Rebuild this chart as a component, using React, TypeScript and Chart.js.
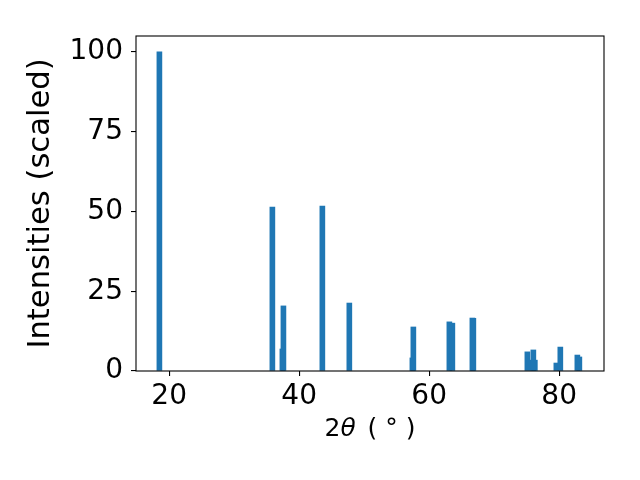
import React, { useEffect, useRef } from "react";
import { Chart, registerables } from "chart.js";

Chart.register(...registerables);

// 2θ positions (degrees) and scaled intensities
const twoTheta = [
  18.5, 35.88, 37.42, 37.58, 43.57, 47.72, 57.42, 57.57, 63.11, 63.57,
  66.65, 66.8, 75.11, 75.95, 76.26, 76.03, 79.57, 80.18, 82.8, 83.11,
];
const intensity = [
  100, 51.4, 6.9, 20.4, 51.7, 21.3, 4.1, 13.8, 15.4, 15.0,
  16.6, 16.5, 6.0, 3.4, 3.4, 6.6, 2.5, 7.5, 5.0, 4.4,
];
const xTicks = [20, 40, 60, 80];
const yTicks = [0, 25, 50, 75, 100];
// x label pieces: "2θ ( ° )" with an italic θ
const xLabelParts = [
  { text: "2", italic: false, gap: 0 },
  { text: "θ", italic: true, gap: 0 },
  { text: " (", italic: false, gap: 4 },
  { text: " ° ", italic: false, gap: 0 },
  { text: ")", italic: false, gap: 0 },
];
const yLabel = "Intensities (scaled)";

const FAMILY = "'DejaVu Sans', sans-serif";

const framePlugin = {
  id: "frame",
  afterDraw(chart: any) {
    const { ctx, chartArea } = chart;
    ctx.save();
    ctx.strokeStyle = "#000";
    ctx.lineWidth = 1.1;
    ctx.strokeRect(chartArea.left, chartArea.top, chartArea.right - chartArea.left, chartArea.bottom - chartArea.top);
    // x axis title
    const fontOf = (it: boolean) => `${it ? "italic " : ""}25px ${FAMILY}`;
    let total = 0;
    for (const p of xLabelParts) {
      ctx.font = fontOf(p.italic);
      total += p.gap + ctx.measureText(p.text).width;
    }
    let x = (chartArea.left + chartArea.right) / 2 - total / 2;
    const y = chartArea.bottom + 65;
    ctx.fillStyle = "#000";
    ctx.textBaseline = "alphabetic";
    ctx.textAlign = "left";
    for (const p of xLabelParts) {
      ctx.font = fontOf(p.italic);
      x += p.gap;
      ctx.fillText(p.text, x, y);
      x += ctx.measureText(p.text).width;
    }
    ctx.restore();
  },
};

export default function App() {
  const ref = useRef<HTMLCanvasElement>(null);
  useEffect(() => {
    document.body.style.margin = "0";
    const font = { family: FAMILY, size: 28 };
    const chart = new Chart(ref.current!, {
      type: "bar",
      data: {
        datasets: [
          {
            data: twoTheta.map((x, i) => ({ x, y: intensity[i] })),
            backgroundColor: "#1f77b4",
            borderWidth: 0,
            barThickness: 5,
            grouped: false,
          } as any,
        ],
      },
      plugins: [framePlugin],
      options: {
        animation: false,
        responsive: false,
        devicePixelRatio: 1,
        layout: { padding: { top: 36, right: 36, left: 0, bottom: 0 } },
        plugins: { legend: { display: false }, tooltip: { enabled: false } },
        scales: {
          x: {
            type: "linear",
            min: 14.9,
            max: 86.9,
            offset: false,
            afterBuildTicks: (s: any) => {
              s.ticks = xTicks.map((v) => ({ value: v }));
            },
            afterFit: (s: any) => {
              s.height = 109;
            },
            grid: { drawOnChartArea: false, offset: false, color: "#000", tickLength: 5, lineWidth: 1.1 },
            border: { display: false },
            ticks: { color: "#000", font, padding: 4, maxRotation: 0, autoSkip: false },
            title: { display: false },
          },
          y: {
            type: "linear",
            min: 0,
            max: 105,
            afterBuildTicks: (s: any) => {
              s.ticks = yTicks.map((v) => ({ value: v }));
            },
            afterFit: (s: any) => {
              s.width = 136;
            },
            grid: { drawOnChartArea: false, offset: false, color: "#000", tickLength: 5, lineWidth: 1.1 },
            border: { display: false },
            ticks: { color: "#000", font, padding: 8 },
            title: { display: true, text: yLabel, color: "#000", font: { family: FAMILY, size: 30.6 }, padding: { top: 23 } },
          },
        },
      },
    });
    return () => chart.destroy();
  }, []);
  return (
    <div style={{ position: "absolute", left: 0, top: 0, width: 640, height: 480 }}>
      <canvas ref={ref} width={640} height={480} />
    </div>
  );
}
